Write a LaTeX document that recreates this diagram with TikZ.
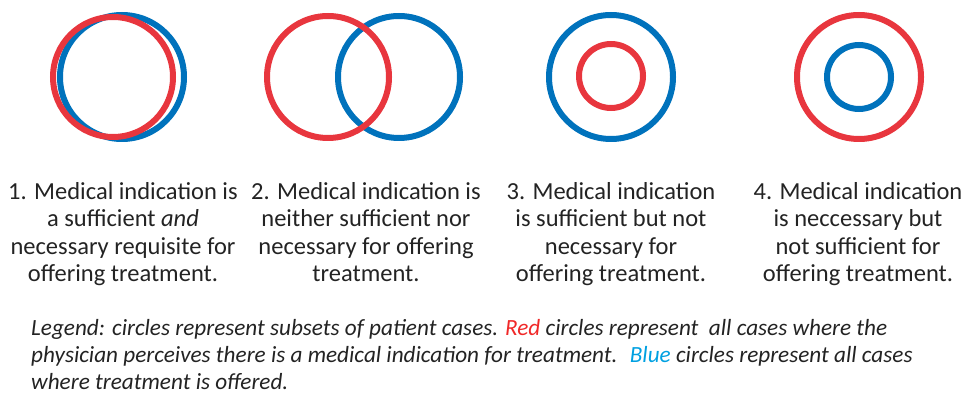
\documentclass[tikz,border=0pt]{standalone}
\usepackage{fontspec}
\setmainfont{Carlito}
\definecolor{ringred}{RGB}{232,54,62}
\definecolor{ringblue}{RGB}{0,114,188}
\definecolor{txtred}{RGB}{240,40,40}
\definecolor{txtblue}{RGB}{0,160,225}
\definecolor{txtgray}{RGB}{35,35,35}
\begin{document}
\begin{tikzpicture}[x=1pt,y=-1pt,
  ring/.style={circle,draw,line width=6pt,inner sep=0pt,minimum size=#1},
  redring/.style={ring=#1,draw=ringred},
  bluering/.style={ring=#1,draw=ringblue},
  caption/.style={align=center,anchor=north,text=txtgray,inner sep=0pt,
    font=\fontsize{24.5}{27.5}\selectfont},
  legendtext/.style={align=left,anchor=north west,text=txtgray,inner sep=0pt,
    font=\fontsize{23.2}{27}\selectfont\itshape}]
\useasboundingbox (0,0) rectangle (966,395);

% 1. identical sets
\node[bluering=124pt] (b1) at (122,77) {};
\node[redring=120pt] (r1) at (113,77) {};
% 2. overlapping sets
\node[bluering=122pt] (b2) at (399,77) {};
\node[redring=122pt] (r2) at (328,77) {};
% 3. red inside blue
\node[bluering=124pt] (b3) at (611,77) {};
\node[redring=64pt] (r3) at (611,76) {};
% 4. blue inside red
\node[redring=124pt] (r4) at (859,77) {};
\node[bluering=64pt] (b4) at (859,77) {};

\node[caption] (c1) at (123,182) {1. Medical indication is\\a sufficient \textit{and}\\necessary requisite for\\offering treatment.};
\node[caption] (c2) at (366,182) {2. Medical indication is\\neither sufficient nor\\necessary for offering\\treatment.};
\node[caption] (c3) at (611,182) {3. Medical indication\\is sufficient but not\\necessary for\\offering treatment.};
\node[caption] (c4) at (858,182) {4. Medical indication\\is neccessary but\\not sufficient for\\offering treatment.};

\node[legendtext] (legend) at (31,319) {Legend: circles represent subsets of patient cases. \textcolor{txtred}{Red} circles represent \ all cases where the\\physician perceives there is a medical indication for treatment. \ \textcolor{txtblue}{Blue} circles represent all cases\\where treatment is offered.};
\end{tikzpicture}
\end{document}
